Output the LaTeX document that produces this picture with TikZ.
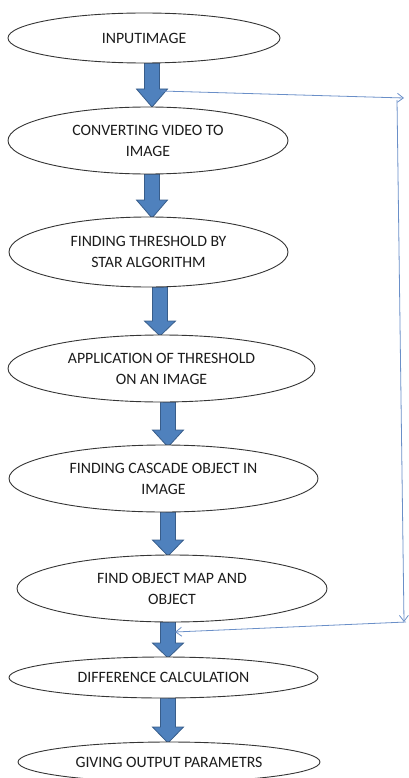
\documentclass[tikz,border=0pt]{standalone}
\usepackage{fontspec}
\setmainfont{Carlito}
\usetikzlibrary{shapes.geometric,arrows.meta}
\definecolor{blockfill}{HTML}{4F81BD}
\definecolor{blockline}{HTML}{385D8A}
\definecolor{fbline}{HTML}{6A8FC8}
\definecolor{ellline}{HTML}{353535}
\definecolor{txt}{HTML}{1C1C1C}
\begin{document}
\begin{tikzpicture}[x=1pt,y=-1pt,
  proc/.style={ellipse, draw=ellline, line width=0.9pt, fill=white, inner sep=0pt,
    align=center, text=txt, font=\fontsize{15.8}{21}\selectfont},
  blockarrow/.style={fill=blockfill, draw=blockline, line width=0.8pt, line join=miter},
  feedback/.style={draw=fbline, line width=0.8pt, -{Straight Barb[length=6pt,width=9pt]}}]
\useasboundingbox (0,0) rectangle (409,778);
% block arrows: center x, top, head start, tip
\foreach \cx/\top/\hs/\tip in {152/63/89/107, 152/174/200/218, 160/287/321/336, 168/402/430/447, 168/512/540/556, 168/622/643/658, 168/698/727/743}{
  \path[blockarrow] (\cx-7.5,\top) -- (\cx+7.5,\top) -- (\cx+7.5,\hs) -- (\cx+15.5,\hs)
    -- (\cx,\tip) -- (\cx-15.5,\hs) -- (\cx-7.5,\hs) -- cycle;
}
\node[proc, minimum width=272pt, minimum height=50pt] (n1) at (144,38) {INPUTIMAGE};
\node[proc, minimum width=280pt, minimum height=67pt] (n2) at (148,140.5) {CONVERTING VIDEO TO\\IMAGE};
\node[proc, minimum width=279pt, minimum height=70pt] (n3) at (148.5,252) {FINDING THRESHOLD BY\\STAR ALGORITHM};
\node[proc, minimum width=307pt, minimum height=67pt] (n4) at (161.5,368.5) {APPLICATION OF THRESHOLD\\ON AN IMAGE};
\node[proc, minimum width=309pt, minimum height=67pt] (n5) at (163.5,478.5) {FINDING CASCADE OBJECT IN\\IMAGE};
\node[proc, minimum width=310pt, minimum height=67pt] (n6) at (172,588.5) {FIND OBJECT MAP AND\\OBJECT};
\node[proc, minimum width=309pt, minimum height=41pt] (n7) at (163.5,677.5) {DIFFERENCE CALCULATION};
\node[proc, minimum width=302pt, minimum height=40pt] (n8) at (169,762) {GIVING OUTPUT PARAMETRS};
% feedback connectors
\coordinate (fa) at (161,91);
\coordinate (fb) at (404,98);
\coordinate (fc) at (397,100);
\coordinate (fd) at (404,622);
\coordinate (fe) at (406,622);
\coordinate (ff) at (175,632);
\draw[feedback] (fa) -- (fb);
\draw[feedback] (fc) -- (fd);
\draw[feedback] (fe) -- (ff);
\end{tikzpicture}
\end{document}
